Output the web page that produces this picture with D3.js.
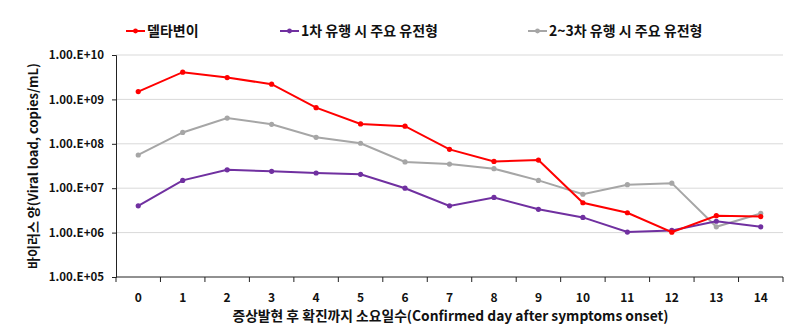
<!DOCTYPE html>
<html>
<head>
<meta charset="utf-8">
<script src="https://cdn.jsdelivr.net/npm/d3@7"></script>
<style>
  body { margin: 0; background: #fff; }
  svg text { font-family: "Noto Sans CJK KR", "Noto Sans", sans-serif; font-weight: bold; fill: #111; }
</style>
</head>
<body>
<svg id="chart" width="800" height="331"></svg>
<script>
// Days from symptom onset to confirmation
const days = [0, 1, 2, 3, 4, 5, 6, 7, 8, 9, 10, 11, 12, 13, 14];

// Viral load (copies/mL) per day
const deltaValues = [1.5e9, 4.1e9, 3.1e9, 2.2e9, 6.5e8, 2.8e8, 2.5e8, 7.5e7, 4.0e7, 4.3e7, 4.7e6, 2.8e6, 1.02e6, 2.4e6, 2.3e6];
const wave1Values = [4.0e6, 1.5e7, 2.6e7, 2.4e7, 2.2e7, 2.05e7, 1.0e7, 4.0e6, 6.2e6, 3.35e6, 2.2e6, 1.03e6, 1.12e6, 1.8e6, 1.35e6];
const wave23Values = [5.6e7, 1.8e8, 3.8e8, 2.75e8, 1.4e8, 1.03e8, 3.9e7, 3.5e7, 2.75e7, 1.5e7, 7.3e6, 1.2e7, 1.3e7, 1.35e6, 2.7e6];

const seriesNames = ["델타변이", "1차 유행 시 주요 유전형", "2~3차 유행 시 주요 유전형"];
const seriesColors = ["#ff0000", "#7030a0", "#a6a6a6"];
const yTicks = [1e5, 1e6, 1e7, 1e8, 1e9, 1e10];
const yTickLabels = ["1.00.E+05", "1.00.E+06", "1.00.E+07", "1.00.E+08", "1.00.E+09", "1.00.E+10"];
const yTitle = "바이러스 양(Viral load, copies/mL)";
const xTitle = "증상발현 후 확진까지 소요일수(Confirmed day after symptoms onset)";

const series = [
  { name: seriesNames[0], color: seriesColors[0], values: deltaValues },
  { name: seriesNames[1], color: seriesColors[1], values: wave1Values },
  { name: seriesNames[2], color: seriesColors[2], values: wave23Values }
];

const svg = d3.select("#chart");
const margin = { left: 116, right: 17, top: 55, bottom: 54 };
const W = 800, H = 331;
const plotW = W - margin.left - margin.right;
const plotH = H - margin.top - margin.bottom;

const x = d3.scaleBand().domain(days).range([0, plotW]).padding(0);
const y = d3.scaleLog().domain([1e5, 1e10]).range([plotH, 0]);

const g = svg.append("g").attr("transform", `translate(${margin.left},${margin.top})`);

// Horizontal gridlines
g.append("g")
  .selectAll("line")
  .data(yTicks.slice(1))
  .join("line")
  .attr("x1", 0).attr("x2", plotW)
  .attr("y1", d => y(d)).attr("y2", d => y(d))
  .attr("stroke", "#d9d9d9").attr("stroke-width", 1);

// Y axis
const yAxis = g.append("g")
  .call(d3.axisLeft(y).tickValues(yTicks).tickSize(4).tickPadding(8)
    .tickFormat((d, i) => yTickLabels[i]));
yAxis.select(".domain").attr("stroke", "#222");
yAxis.selectAll(".tick line").attr("stroke", "#222");
yAxis.selectAll("text").style("font-size", "11.5px");

// X axis with ticks at category boundaries
const xAxisG = g.append("g").attr("transform", `translate(0,${plotH})`);
xAxisG.append("line").attr("x1", 0).attr("x2", plotW).attr("y1", 0).attr("y2", 0).attr("stroke", "#222");
const boundaries = days.map(d => x(d)).concat([plotW]);
xAxisG.selectAll("line.tk").data(boundaries).join("line").attr("class", "tk")
  .attr("x1", d => d).attr("x2", d => d).attr("y1", 0).attr("y2", 5).attr("stroke", "#222");
xAxisG.selectAll("text.lbl").data(days).join("text").attr("class", "lbl")
  .attr("x", d => x(d) + x.bandwidth() / 2).attr("y", 25)
  .attr("text-anchor", "middle").style("font-size", "12px").text(d => d);

// Axis titles
svg.append("text")
  .attr("transform", `translate(38,${margin.top + plotH / 2}) rotate(-90)`)
  .attr("text-anchor", "middle").style("font-size", "13px").text(yTitle);
svg.append("text")
  .attr("x", margin.left + plotW / 2 + 1).attr("y", 321)
  .attr("text-anchor", "middle").style("font-size", "13.8px").text(xTitle);

// Series lines and markers
const line = d3.line().x((d, i) => x(days[i]) + x.bandwidth() / 2).y(d => y(d));
series.slice().reverse().forEach(s => {
  g.append("path").datum(s.values)
    .attr("d", line).attr("fill", "none")
    .attr("stroke", s.color).attr("stroke-width", 2);
  g.selectAll(null).data(s.values).join("circle")
    .attr("cx", (d, i) => x(days[i]) + x.bandwidth() / 2)
    .attr("cy", d => y(d)).attr("r", 2.6).attr("fill", s.color);
});

// Legend
const legendX = [126, 280, 528];
const legend = svg.append("g").attr("transform", "translate(0,31)");
series.forEach((s, i) => {
  const lg = legend.append("g").attr("transform", `translate(${legendX[i]},0)`);
  lg.append("line").attr("x1", 0).attr("x2", 19).attr("y1", 0).attr("y2", 0)
    .attr("stroke", s.color).attr("stroke-width", 2);
  lg.append("circle").attr("cx", 9.5).attr("cy", 0).attr("r", 2.4).attr("fill", s.color);
  lg.append("text").attr("x", 21).attr("y", 5).style("font-size", "14px").text(s.name);
});
</script>
</body>
</html>
